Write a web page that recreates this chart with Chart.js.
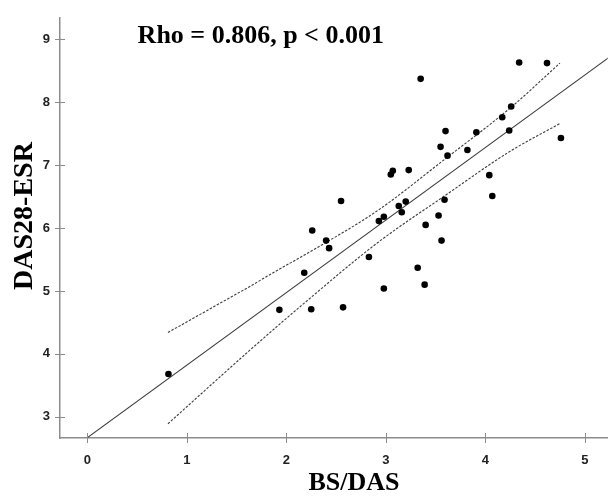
<!DOCTYPE html>
<html lang="en">
<head>
<meta charset="UTF-8">
<title>BS/DAS vs DAS28-ESR</title>
<script src="https://cdn.jsdelivr.net/npm/chart.js"></script>
<style>
  html, body { margin: 0; padding: 0; background: #fff; }
  #box { position: relative; width: 611px; height: 496px; }
</style>
</head>
<body>
<div id="box"><canvas id="myChart"></canvas></div>
<script>
// patients: BS/DAS (x) and DAS28-ESR (y)
const bsdas = [4.34, 4.62, 3.35, 4.26, 4.17, 3.60, 3.91, 4.24, 4.76, 3.55,
               3.82, 3.62, 3.05, 3.07, 3.23, 4.04, 4.07, 2.55, 3.59, 3.20,
               3.13, 3.16, 2.98, 2.93, 3.53, 3.40, 2.26, 3.56, 2.40, 2.43,
               2.83, 3.32, 2.18, 3.39, 2.98, 2.57, 1.93, 2.25, 0.815];
const das28 = [8.63, 8.62, 8.37, 7.93, 7.76, 7.54, 7.52, 7.55, 7.43, 7.29,
               7.24, 7.15, 6.85, 6.91, 6.92, 6.84, 6.51, 6.43, 6.45, 6.42,
               6.35, 6.25, 6.18, 6.11, 6.20, 6.05, 5.96, 5.80, 5.80, 5.68,
               5.54, 5.37, 5.29, 5.10, 5.04, 4.74, 4.70, 4.71, 3.68];

// fit line ends
const fitX = [0, 5.25];
const fitY = [2.67, 8.72];

// 95% band (dashed)
const upX = [0.81, 1.35, 1.62, 1.89, 2.29, 2.92, 3.59, 4.26, 4.75];
const upY = [4.34, 4.82, 5.06, 5.31, 5.67, 6.28, 7.09, 7.92, 8.62];
const loX = [0.81, 1.62, 2.19, 2.92, 3.59, 4.25, 4.75];
const loY = [2.89, 4.04, 4.82, 5.77, 6.51, 7.22, 7.66];

const xTicks = [0, 1, 2, 3, 4, 5];
const yTicks = [3, 4, 5, 6, 7, 8, 9];

function pares(xs, ys) {
    let out = [];
    for (let i = 0; i < xs.length; i++) {
        out.push({ x: xs[i], y: ys[i] });
    }
    return out;
}

const axisGrey = '#8c8c8c';

// small tick marks crossing the axis lines + the texts
const marcas = {
    id: 'marcas',
    afterDraw(chart) {
        const ctx = chart.ctx;
        const xs = chart.scales.x, ys = chart.scales.y;
        const area = chart.chartArea;
        ctx.save();
        ctx.strokeStyle = axisGrey;
        ctx.lineWidth = 1;
        xs.ticks.forEach(function (t) {
            const px = Math.round(xs.getPixelForValue(t.value)) + 0.5;
            ctx.beginPath();
            ctx.moveTo(px, area.bottom - 5);
            ctx.lineTo(px, area.bottom + 5);
            ctx.stroke();
        });
        ys.ticks.forEach(function (t) {
            const py = Math.round(ys.getPixelForValue(t.value)) + 0.5;
            ctx.beginPath();
            ctx.moveTo(area.left - 5, py);
            ctx.lineTo(area.left + 5, py);
            ctx.stroke();
        });

        ctx.fillStyle = '#000';
        ctx.font = 'bold 26px "Liberation Serif", "Times New Roman", serif';
        ctx.textAlign = 'left';
        ctx.textBaseline = 'alphabetic';
        ctx.fillText('Rho = 0.806, p < 0.001', xs.getPixelForValue(0.505), ys.getPixelForValue(8.94));

        ctx.textAlign = 'center';
        ctx.fillText('BS/DAS', 354, 490);

        ctx.translate(32, 216);
        ctx.rotate(-Math.PI / 2);
        ctx.font = 'bold 28px "Liberation Serif", "Times New Roman", serif';
        ctx.fillText('DAS28-ESR', 0, 0);
        ctx.restore();
    }
};

const config = {
    type: 'scatter',
    data: {
        datasets: [
            {
                label: 'pacientes',
                data: pares(bsdas, das28),
                pointRadius: 3.3,
                pointHoverRadius: 3.3,
                pointBackgroundColor: '#000',
                pointBorderWidth: 0,
                order: 0
            },
            {
                label: 'ajuste',
                data: pares(fitX, fitY),
                showLine: true,
                pointRadius: 0,
                borderColor: '#3a3a3a',
                borderWidth: 1.1,
                order: 1
            },
            {
                label: 'IC sup',
                data: pares(upX, upY),
                showLine: true,
                pointRadius: 0,
                borderColor: '#3c3c3c',
                borderWidth: 1.1,
                borderDash: [2.5, 1.5],
                cubicInterpolationMode: 'monotone',
                order: 2
            },
            {
                label: 'IC inf',
                data: pares(loX, loY),
                showLine: true,
                pointRadius: 0,
                borderColor: '#3c3c3c',
                borderWidth: 1.1,
                borderDash: [2.5, 1.5],
                cubicInterpolationMode: 'monotone',
                order: 2
            }
        ]
    },
    options: {
        responsive: true,
        maintainAspectRatio: false,
        animation: false,
        layout: { padding: { top: 15, right: 0, left: 0, bottom: 0 } },
        plugins: {
            legend: { display: false },
            tooltip: { enabled: false }
        },
        scales: {
            x: {
                type: 'linear',
                min: -0.275,
                max: 5.23,
                afterBuildTicks: function (s) { s.ticks = xTicks.map(function (v) { return { value: v }; }); },
                afterFit: function (s) { s.height = 58; },
                grid: { display: false, drawTicks: false },
                border: { display: true, color: axisGrey, width: 1.5 },
                ticks: {
                    padding: 15,
                    color: '#222',
                    font: { family: '"Liberation Sans", Arial, sans-serif', size: 13, weight: 'bold' }
                }
            },
            y: {
                type: 'linear',
                min: 2.664,
                max: 9.34,
                afterBuildTicks: function (s) { s.ticks = yTicks.map(function (v) { return { value: v }; }); },
                afterFit: function (s) { s.width = 60; },
                grid: { display: false, drawTicks: false },
                border: { display: true, color: axisGrey, width: 1.5 },
                ticks: {
                    padding: 10,
                    color: '#222',
                    font: { family: '"Liberation Sans", Arial, sans-serif', size: 13, weight: 'bold' }
                }
            }
        }
    },
    plugins: [marcas]
};

let myChart = new Chart(document.getElementById('myChart'), config);
</script>
</body>
</html>
